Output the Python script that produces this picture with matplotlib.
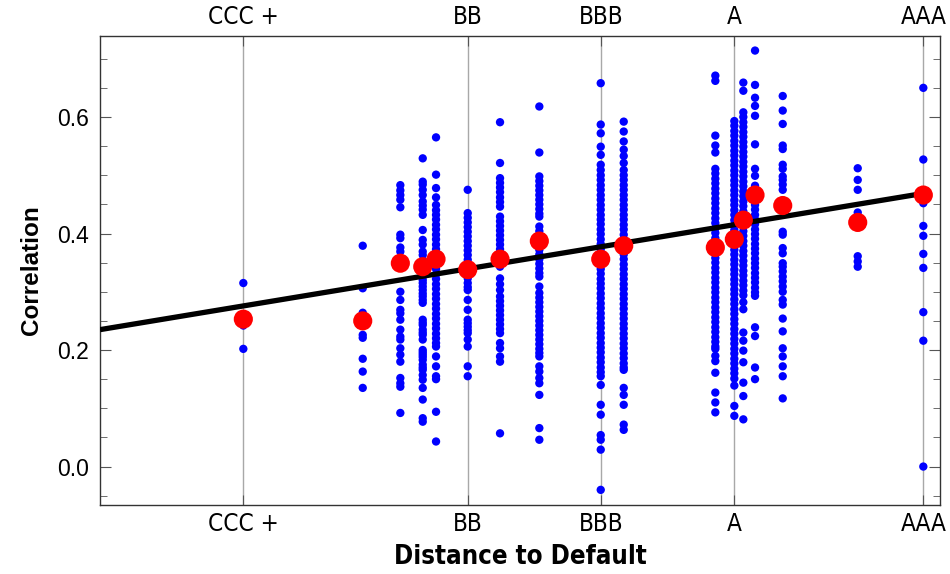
import matplotlib
matplotlib.use('Agg')
import numpy as np
import matplotlib.pyplot as plt
from matplotlib.ticker import MultipleLocator, FormatStrFormatter

plt.rcParams['font.family'] = ['Liberation Sans', 'DejaVu Sans']

# rating ticks (distance to default scale)
rating_labels = ['CCC +', 'BB', 'BBB', 'A', 'AAA']
rating_pos = [1.433, 3.677, 5.007, 6.343, 8.233]

# x position of each group of firms
group_x = [1.433, 2.627, 3.003, 3.227, 3.360, 3.677, 4.000, 4.393, 5.007,
           5.237, 6.153, 6.343, 6.433, 6.550, 6.827, 7.577, 8.233]

# correlations per group
g01 = [0.315, 0.253, 0.242, 0.202]
g02 = [0.379, 0.306, 0.264, 0.250, 0.226, 0.221, 0.185, 0.163, 0.135]
g03 = [0.483, 0.474, 0.466, 0.458, 0.445, 0.398, 0.392, 0.376, 0.369, 0.350,
       0.344, 0.300, 0.286, 0.269, 0.263, 0.252, 0.235, 0.223, 0.218, 0.203,
       0.192, 0.180, 0.152, 0.143, 0.137, 0.092]
g04 = [0.529, 0.489, 0.484, 0.475, 0.466, 0.455, 0.448, 0.441, 0.432, 0.406,
       0.389, 0.381, 0.369, 0.363, 0.343, 0.326, 0.320, 0.315, 0.309, 0.303,
       0.297, 0.292, 0.286, 0.281, 0.252, 0.247, 0.243, 0.235, 0.230, 0.226,
       0.218, 0.200, 0.196, 0.192, 0.188, 0.183, 0.175, 0.170, 0.166, 0.157,
       0.149, 0.135, 0.115, 0.083, 0.077]
g05 = [0.565, 0.501, 0.478, 0.462, 0.449, 0.440, 0.432, 0.424, 0.415, 0.407,
       0.398, 0.390, 0.381, 0.373, 0.364, 0.356, 0.347, 0.339, 0.330, 0.322,
       0.313, 0.305, 0.296, 0.288, 0.279, 0.271, 0.262, 0.254, 0.245, 0.237,
       0.228, 0.220, 0.212, 0.206, 0.189, 0.172, 0.155, 0.150, 0.094, 0.043]
g06 = [0.475, 0.435, 0.427, 0.419, 0.411, 0.403, 0.395, 0.387, 0.379, 0.371,
       0.363, 0.355, 0.347, 0.339, 0.331, 0.323, 0.315, 0.308, 0.303, 0.286,
       0.269, 0.252, 0.246, 0.240, 0.234, 0.229, 0.218, 0.206, 0.172, 0.155]
g07 = [0.591, 0.521, 0.495, 0.487, 0.479, 0.471, 0.462, 0.454, 0.446, 0.429,
       0.421, 0.413, 0.405, 0.397, 0.389, 0.381, 0.373, 0.365, 0.357, 0.350,
       0.343, 0.323, 0.313, 0.303, 0.292, 0.284, 0.276, 0.268, 0.260, 0.252,
       0.244, 0.236, 0.229, 0.212, 0.203, 0.189, 0.180, 0.057]
g08 = [0.618, 0.539, 0.498, 0.490, 0.482, 0.474, 0.466, 0.458, 0.450, 0.442,
       0.434, 0.429, 0.412, 0.404, 0.396, 0.388, 0.380, 0.372, 0.364, 0.356,
       0.348, 0.340, 0.332, 0.326, 0.309, 0.298, 0.290, 0.282, 0.274, 0.266,
       0.258, 0.250, 0.242, 0.234, 0.226, 0.218, 0.210, 0.202, 0.195, 0.189,
       0.172, 0.163, 0.152, 0.143, 0.123, 0.066, 0.046]
g09 = [0.658, 0.587, 0.572, 0.549, 0.535, 0.518, 0.509, 0.500, 0.492, 0.483,
       0.475, 0.466, 0.458, 0.449, 0.441, 0.432, 0.424, 0.416, 0.407, 0.399,
       0.390, 0.382, 0.373, 0.365, 0.356, 0.348, 0.339, 0.331, 0.322, 0.314,
       0.306, 0.297, 0.289, 0.280, 0.272, 0.263, 0.255, 0.246, 0.238, 0.229,
       0.221, 0.212, 0.204, 0.196, 0.187, 0.179, 0.170, 0.162, 0.155, 0.140,
       0.106, 0.089, 0.054, 0.046, 0.029, -0.040]
g10 = [0.592, 0.575, 0.558, 0.544, 0.533, 0.521, 0.509, 0.500, 0.492, 0.483,
       0.475, 0.466, 0.458, 0.449, 0.441, 0.432, 0.424, 0.415, 0.407, 0.398,
       0.390, 0.381, 0.373, 0.364, 0.356, 0.347, 0.339, 0.330, 0.322, 0.313,
       0.305, 0.296, 0.288, 0.279, 0.271, 0.262, 0.254, 0.245, 0.237, 0.228,
       0.220, 0.211, 0.203, 0.194, 0.186, 0.177, 0.170, 0.166, 0.135, 0.123,
       0.106, 0.072, 0.063]
g11 = [0.671, 0.662, 0.568, 0.551, 0.539, 0.511, 0.503, 0.494, 0.486, 0.477,
       0.469, 0.460, 0.452, 0.443, 0.435, 0.426, 0.418, 0.409, 0.401, 0.392,
       0.384, 0.375, 0.367, 0.358, 0.350, 0.341, 0.333, 0.324, 0.316, 0.307,
       0.299, 0.290, 0.282, 0.273, 0.265, 0.256, 0.248, 0.239, 0.231, 0.222,
       0.214, 0.206, 0.202, 0.190, 0.181, 0.161, 0.127, 0.110, 0.093]
g12 = [0.593, 0.585, 0.576, 0.568, 0.559, 0.551, 0.542, 0.534, 0.525, 0.517,
       0.508, 0.500, 0.491, 0.483, 0.474, 0.466, 0.457, 0.449, 0.440, 0.432,
       0.423, 0.415, 0.406, 0.398, 0.389, 0.381, 0.372, 0.364, 0.355, 0.347,
       0.338, 0.330, 0.321, 0.313, 0.304, 0.296, 0.287, 0.279, 0.270, 0.262,
       0.253, 0.245, 0.236, 0.228, 0.219, 0.211, 0.202, 0.194, 0.185, 0.177,
       0.168, 0.160, 0.151, 0.139, 0.104, 0.087]
g13 = [0.659, 0.645, 0.608, 0.600, 0.591, 0.583, 0.574, 0.566, 0.557, 0.549,
       0.540, 0.532, 0.523, 0.515, 0.506, 0.498, 0.489, 0.481, 0.472, 0.464,
       0.455, 0.447, 0.438, 0.430, 0.421, 0.413, 0.404, 0.396, 0.387, 0.379,
       0.370, 0.362, 0.353, 0.345, 0.336, 0.328, 0.319, 0.311, 0.302, 0.294,
       0.282, 0.270, 0.230, 0.216, 0.199, 0.179, 0.144, 0.121, 0.081]
g14 = [0.714, 0.655, 0.633, 0.619, 0.602, 0.553, 0.511, 0.499, 0.482, 0.474,
       0.466, 0.457, 0.449, 0.441, 0.432, 0.424, 0.416, 0.407, 0.399, 0.391,
       0.382, 0.374, 0.366, 0.357, 0.349, 0.341, 0.332, 0.324, 0.316, 0.307,
       0.299, 0.293, 0.239, 0.224, 0.170, 0.150]
g15 = [0.636, 0.611, 0.588, 0.551, 0.545, 0.518, 0.511, 0.498, 0.492, 0.484,
       0.475, 0.450, 0.440, 0.403, 0.398, 0.375, 0.366, 0.349, 0.343, 0.335,
       0.326, 0.318, 0.309, 0.300, 0.286, 0.278, 0.254, 0.232, 0.203, 0.189,
       0.172, 0.155, 0.117]
g16 = [0.512, 0.492, 0.475, 0.436, 0.419, 0.361, 0.352, 0.343]
g17 = [0.650, 0.527, 0.463, 0.452, 0.413, 0.396, 0.365, 0.341, 0.265, 0.216,
       0.000]

groups = [g01, g02, g03, g04, g05, g06, g07, g08, g09, g10, g11, g12, g13,
          g14, g15, g16, g17]

# group averages (red)
group_mean = [0.253, 0.250, 0.349, 0.343, 0.356, 0.338, 0.356, 0.387, 0.356,
              0.379, 0.376, 0.390, 0.423, 0.466, 0.448, 0.419, 0.466]

# fitted line
fit_intercept = 0.235
fit_slope = 0.0284

fig = plt.figure(figsize=(9.5, 5.74), dpi=100)
ax = fig.add_axes([0.1053, 0.1202, 0.8842, 0.8171])

xlo, xhi = 0.0, 8.4
ax.set_xlim(xlo, xhi)
ax.set_ylim(-0.066, 0.739)

for p in rating_pos:
    ax.axvline(p, color='#a8a8a8', lw=1.0, zorder=0)

bx = np.concatenate([np.full(len(g), x) for g, x in zip(groups, group_x)])
by = np.concatenate(groups)
ax.scatter(bx, by, s=36, color='#0000ff', edgecolors='none', zorder=2)

fx = np.array([xlo, rating_pos[-1]])
ax.plot(fx, fit_intercept + fit_slope * fx, color='black', lw=3.8,
        solid_capstyle='butt', zorder=3)

ax.scatter(group_x, group_mean, s=190, color='#ff0000', edgecolors='none',
           zorder=4)

# condensed labels on the rating axis
ax.set_xticks(rating_pos)
ax.set_xticklabels(rating_labels)
ax.tick_params(axis='x', direction='in', length=7, color='#555555',
               top=True, labeltop=True, bottom=True, labelbottom=True, pad=5)
for t in ax.xaxis.get_major_ticks():
    for lab in (t.label1, t.label2):
        lab.set_family('DejaVu Sans')
        lab.set_stretch('condensed')
        lab.set_fontsize(17.5)

ax.yaxis.set_major_locator(MultipleLocator(0.2))
ax.yaxis.set_minor_locator(MultipleLocator(0.05))
ax.yaxis.set_major_formatter(FormatStrFormatter('%.1f'))
ax.tick_params(axis='y', which='major', direction='in', length=8,
               color='#555555', left=True, right=True, labelsize=16.5, pad=8)
ax.tick_params(axis='y', which='minor', direction='in', length=5,
               color='#555555', left=True, right=True)

for s in ax.spines.values():
    s.set_color('#333333')
    s.set_linewidth(1.0)

ax.set_xlabel('Distance to Default', family='DejaVu Sans', stretch='condensed',
              fontweight='bold', fontsize=18.5, labelpad=6)
ax.set_ylabel('Correlation', fontweight='bold', fontsize=17.5, labelpad=10)

fig.savefig('out.png', dpi=100)
